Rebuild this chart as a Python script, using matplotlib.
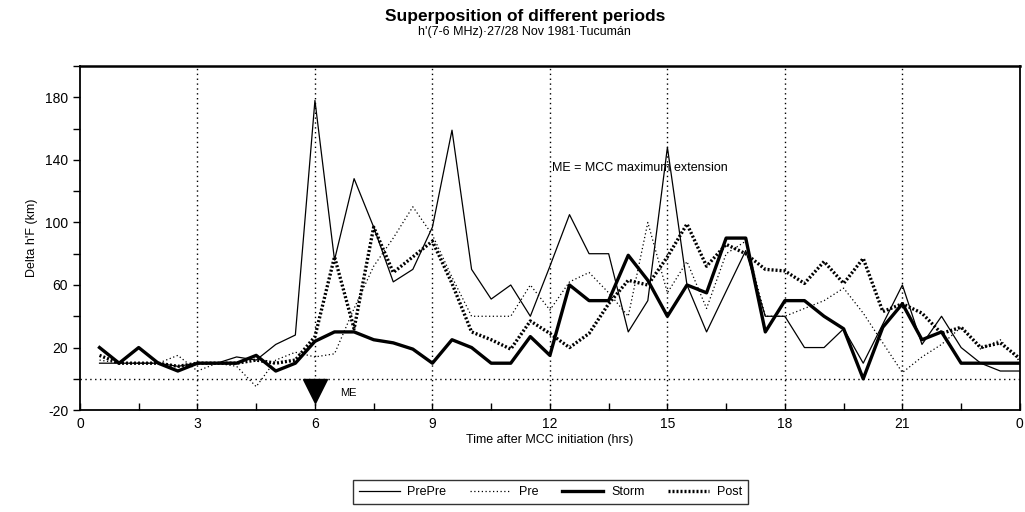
import numpy as np
import matplotlib
matplotlib.use("Agg")
import matplotlib.pyplot as plt
from matplotlib.ticker import MultipleLocator, FixedLocator

plt.rcParams['font.family'] = ['Liberation Sans', 'DejaVu Sans']
plt.rcParams['axes.unicode_minus'] = False

# ---- data (hours after MCC initiation, half-hour steps) ----
hours = [0.5, 1.0, 1.5, 2.0, 2.5, 3.0, 3.5, 4.0, 4.5, 5.0, 5.5, 6.0,
         6.5, 7.0, 7.5, 8.0, 8.5, 9.0, 9.5, 10.0, 10.5, 11.0, 11.5, 12.0,
         12.5, 13.0, 13.5, 14.0, 14.5, 15.0, 15.5, 16.0, 16.5, 17.0, 17.5, 18.0,
         18.5, 19.0, 19.5, 20.0, 20.5, 21.0, 21.5, 22.0, 22.5, 23.0, 23.5, 24.0]

prepre = [10, 10, 10, 10, 8, 10, 10, 14, 12, 22, 28, 178,
          76, 128, 97, 62, 70, 97, 159, 70, 51, 60, 40, 72,
          105, 80, 80, 30, 50, 148, 60, 30, 56, 82, 40, 40,
          20, 20, 32, 10, 35, 60, 22, 40, 20, 10, 5, 5]

pre = [12, 10, 10, 10, 15, 5, 10, 8, -5, 12, 17, 14,
       16, 45, 72, 90, 110, 92, 65, 40, 40, 40, 60, 44,
       62, 68, 55, 40, 100, 55, 75, 45, 80, 88, 40, 40,
       45, 50, 58, 42, 23, 4, 14, 22, 33, 19, 25, 11]

storm = [20, 10, 20, 10, 5, 10, 10, 10, 15, 5, 10, 24,
         30, 30, 25, 23, 19, 10, 25, 20, 10, 10, 27, 15,
         60, 50, 50, 79, 63, 40, 60, 55, 90, 90, 30, 50,
         50, 40, 32, 0, 33, 48, 25, 30, 10, 10, 10, 10]

post = [15, 10, 10, 10, 8, 10, 10, 10, 12, 10, 12, 27,
        78, 32, 97, 68, 78, 88, 61, 30, 25, 19, 37, 29,
        20, 29, 48, 63, 60, 78, 99, 72, 86, 80, 70, 69,
        61, 75, 61, 77, 43, 48, 42, 29, 33, 20, 23, 13]

x_ticks = [0, 3, 6, 9, 12, 15, 18, 21, 24]
x_ticklabels = ['0', '3', '6', '9', '12', '15', '18', '21', '0']
y_ticks = [-20, 20, 60, 100, 140, 180]
grid_hours = [3, 6, 9, 12, 15, 18, 21]
me_time = 6

fig = plt.figure(figsize=(10.25, 5.12), dpi=100)
ax = fig.add_axes([0.078, 0.199, 0.917, 0.672])

for g in grid_hours:
    ax.axvline(g, color='black', linestyle=(0, (1, 2.5)), linewidth=1.0, zorder=1)
ax.axhline(0, color='black', linestyle=(0, (1, 2.5)), linewidth=1.0, zorder=1)

ax.plot(hours, prepre, color='black', linewidth=0.9, linestyle='-', label='PrePre', zorder=3)
ax.plot(hours, pre, color='black', linewidth=0.9, linestyle=(0, (1, 2)), label='Pre', zorder=3)
ax.plot(hours, storm, color='black', linewidth=2.4, linestyle='-', label='Storm', zorder=4)
ax.plot(hours, post, color='black', linewidth=2.4, linestyle=(0, (0.6, 0.6)), label='Post', zorder=4)

# ME marker
ax.plot([me_time], [-8], marker='v', markersize=17, color='black', zorder=5)
ax.text(me_time + 0.65, -9, 'ME', fontsize=8, va='center', ha='left')
ax.text(12.05, 135, 'ME = MCC maximum extension', fontsize=9, va='center', ha='left')

ax.set_xlim(0, 24)
ax.set_ylim(-20, 200)
ax.xaxis.set_major_locator(FixedLocator(x_ticks))
ax.set_xticklabels(x_ticklabels)
ax.xaxis.set_minor_locator(MultipleLocator(1.5))
ax.yaxis.set_major_locator(FixedLocator(y_ticks))
ax.yaxis.set_minor_locator(MultipleLocator(20))
ax.tick_params(axis='x', which='both', direction='in', length=5, width=1, labelsize=10, pad=5)
ax.tick_params(axis='y', which='both', direction='out', length=5, width=1, labelsize=10)
for s in ax.spines.values():
    s.set_linewidth(1.3)
ax.spines['top'].set_linewidth(1.8)

ax.set_xlabel('Time after MCC initiation (hrs)', fontsize=9, labelpad=2)
ax.set_ylabel("Delta h'F (km)", fontsize=9, labelpad=5)

fig.text(0.512, 0.968, 'Superposition of different periods', ha='center', va='center',
         fontsize=12.5, fontweight='bold')
fig.text(0.512, 0.938, "h'(7-6 MHz)·27/28 Nov 1981·Tucumán", ha='center', va='center',
         fontsize=9)

leg = fig.legend(loc='center', bbox_to_anchor=(0.537, 0.039), ncol=4, frameon=True,
                 fancybox=False, edgecolor='black', fontsize=9, handlelength=3.3,
                 columnspacing=1.9, handletextpad=0.6, borderpad=0.45)
leg.get_frame().set_linewidth(1.0)

fig.savefig('out.png', dpi=100, facecolor='white')
